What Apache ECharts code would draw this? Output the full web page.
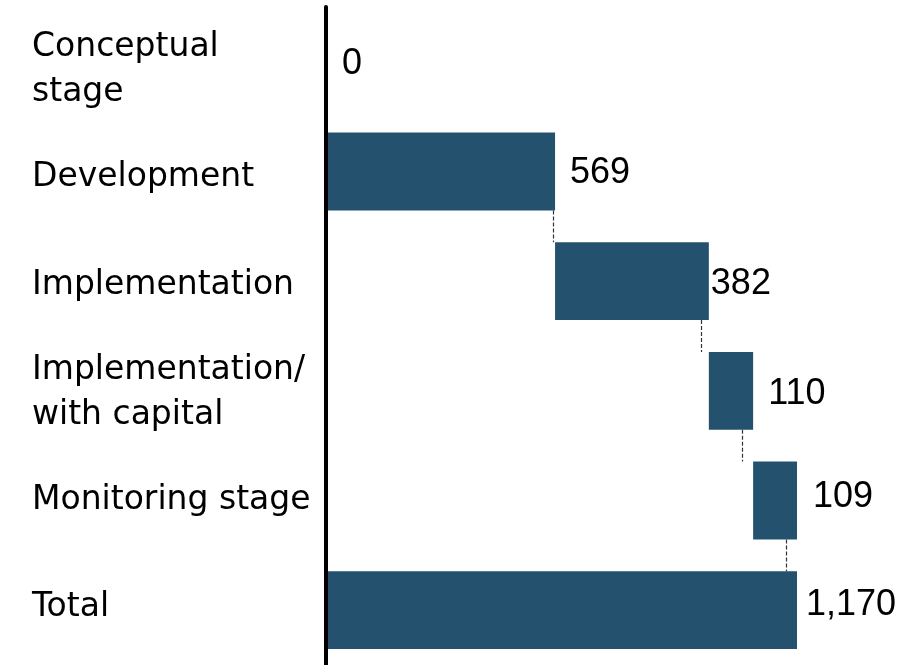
<!DOCTYPE html>
<html>
<head>
<meta charset="utf-8">
<script src="https://cdn.jsdelivr.net/npm/echarts@6/dist/echarts.min.js"></script>
<style>html,body{margin:0;padding:0;background:#fff}#c{width:913px;height:665px}</style>
</head>
<body>
<div id="c"></div>
<script>
const categories = ['Conceptual\nstage', 'Development', 'Implementation', 'Implementation/\nwith capital', 'Monitoring stage', 'Total'];
const values = [0, 569, 382, 110, 109, 1170];
const isTotal = [false, false, false, false, false, true];
const valueLabels = ['0', '569', '382', '110', '109', '1,170'];

// label / connector placement tweaks (styling, not data)
const labelDistance = [16, 15, 2, 15, 16, 9];
const labelShiftY = [2, 2, 3, 3, -3, -5];
const connectorNudgePx = [-2, -8, -11, -11];

// compute waterfall bases from data
const bases = [];
let run = 0;
values.forEach((v, i) => {
  if (isTotal[i]) { bases.push(0); }
  else { bases.push(run); run += v; }
});
const ends = values.map((v, i) => bases[i] + v);
const connectors = [];
for (let i = 1; i < values.length - 1; i++) {
  connectors.push([ends[i], i, connectorNudgePx[i - 1]]);
}

const BAR_RATIO = 0.71;
const chart = echarts.init(document.getElementById('c'), null, {renderer: 'canvas'});
chart.setOption({
  animation: false,
  grid: [
    {left: 326, top: 7, width: 563.6, height: 659},
    {left: 326, top: 16, width: 563.6, height: 645.6}
  ],
  xAxis: [
    {type: 'value', min: 0, max: 1400, show: false, gridIndex: 0},
    {type: 'value', min: 0, max: 1400, show: false, gridIndex: 1}
  ],
  yAxis: [
    {
      type: 'category', inverse: true, data: categories, z: 5, gridIndex: 0,
      axisLine: {show: true, lineStyle: {color: '#000', width: 4}},
      axisTick: {show: false},
      splitLine: {show: false},
      axisLabel: {show: false}
    },
    {
      type: 'category', inverse: true, data: categories, gridIndex: 1,
      axisLine: {show: false},
      axisTick: {show: false},
      splitLine: {show: false},
      axisLabel: {
        align: 'left', margin: 294, color: '#000',
        fontFamily: 'DejaVu Sans', fontSize: 33, lineHeight: 45
      }
    }
  ],
  series: [
    {
      type: 'bar', stack: 'w', silent: true,
      itemStyle: {color: 'transparent'},
      data: bases, barWidth: (BAR_RATIO * 100) + '%'
    },
    {
      type: 'bar', stack: 'w',
      itemStyle: {color: '#24526e'},
      barWidth: (BAR_RATIO * 100) + '%',
      data: values.map((v, i) => ({
        value: v,
        label: {distance: labelDistance[i], offset: [0, labelShiftY[i]]}
      })),
      label: {
        show: true, position: 'right', color: '#000',
        fontFamily: 'Liberation Sans', fontSize: 36,
        formatter: p => valueLabels[p.dataIndex]
      }
    },
    {
      type: 'custom', z: 1,
      data: connectors,
      renderItem: (params, api) => {
        const x = api.value(0), i = api.value(1), nudge = api.value(2);
        const p1 = api.coord([x, i]);
        const p2 = api.coord([x, i + 1]);
        const h = api.size([0, 1])[1] * BAR_RATIO / 2;
        const px = Math.round(p1[0] + nudge) + 0.5;
        return {
          type: 'line',
          shape: {x1: px, y1: p1[1] + h, x2: px, y2: p2[1] - h},
          style: {stroke: '#333', lineWidth: 1.2, lineDash: [4, 2]}
        };
      }
    }
  ]
});
</script>
</body>
</html>
